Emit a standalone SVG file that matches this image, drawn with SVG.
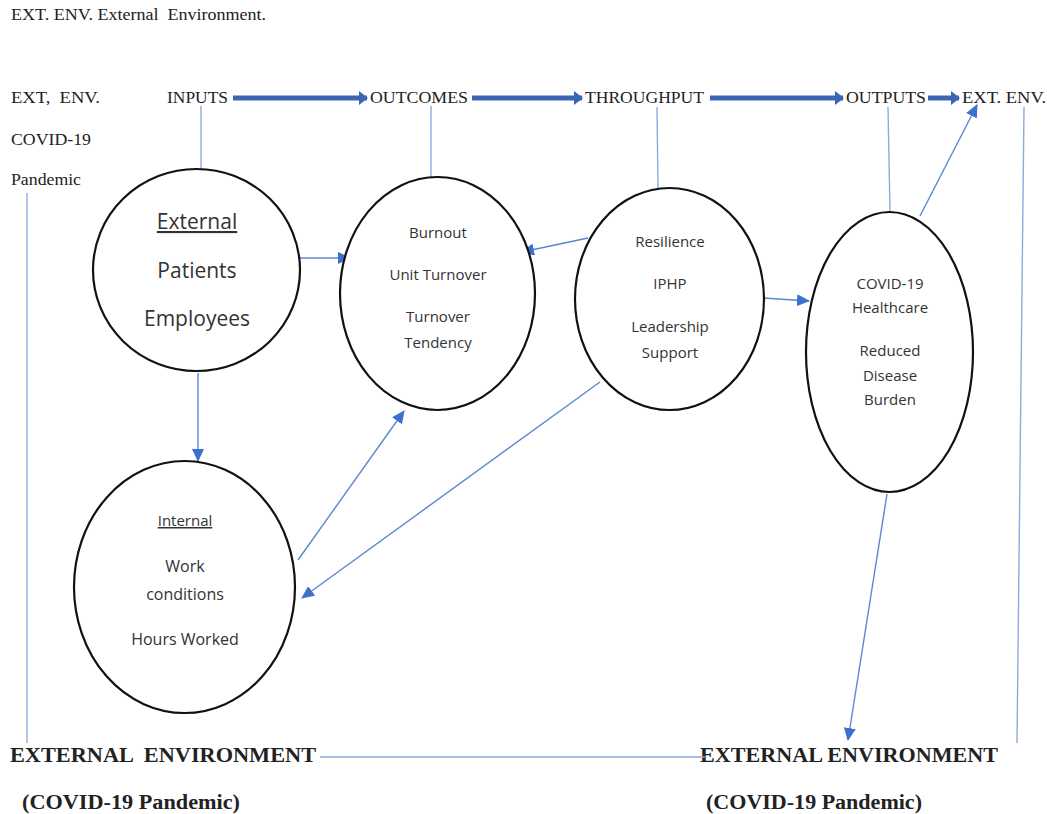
<svg xmlns="http://www.w3.org/2000/svg" width="1047" height="814" viewBox="0 0 1047 814">
<style>
text{white-space:pre}
.serif{font-family:"Liberation Serif","Times New Roman",serif;fill:#222;font-size:16px}
.bold{font-weight:bold;font-size:20px}
.sans{font-family:"Open Sans","Liberation Sans",sans-serif;fill:#333;text-anchor:middle}
.big{font-size:21px}
.med{font-size:15px}
.node{fill:#fff;stroke:#111;stroke-width:2.2}
.plain{stroke:#8EAADB;stroke-width:1.4;fill:none}
.arr{stroke:#5B86D4;stroke-width:1.4;fill:none;marker-end:url(#ah)}
.thick{stroke:#3B66B5;stroke-width:5;fill:none;marker-end:url(#th)}
</style>
<defs>
<marker id="ah" markerWidth="14" markerHeight="12" refX="12" refY="6" orient="auto" markerUnits="userSpaceOnUse">
<path d="M0,0 L13,6 L0,12 Z" fill="#3D6FCC"/>
</marker>
<marker id="th" markerWidth="10" markerHeight="14" refX="8" refY="7" orient="auto" markerUnits="userSpaceOnUse">
<path d="M0,0 L9,7 L0,14 Z" fill="#3B66B5"/>
</marker>
</defs>
<rect width="1047" height="814" fill="#fff"/>

<g id="labels" xml:space="preserve">
<text class="serif" x="11" y="20" textLength="255" lengthAdjust="spacingAndGlyphs">EXT. ENV. External  Environment.</text>
<text class="serif" x="11" y="103" textLength="89" lengthAdjust="spacingAndGlyphs">EXT,  ENV.</text>
<text class="serif" x="11" y="145" textLength="80" lengthAdjust="spacingAndGlyphs">COVID-19</text>
<text class="serif" x="11" y="185" textLength="70" lengthAdjust="spacingAndGlyphs">Pandemic</text>
<text class="serif" x="167" y="103" textLength="61" lengthAdjust="spacingAndGlyphs">INPUTS</text>
<text class="serif" x="370" y="103" textLength="98" lengthAdjust="spacingAndGlyphs">OUTCOMES</text>
<text class="serif" x="585" y="103" textLength="119" lengthAdjust="spacingAndGlyphs">THROUGHPUT</text>
<text class="serif" x="846" y="103" textLength="80" lengthAdjust="spacingAndGlyphs">OUTPUTS</text>
<text class="serif" x="962" y="103" textLength="84" lengthAdjust="spacingAndGlyphs">EXT. ENV.</text>
<text class="serif bold" x="10" y="762" textLength="306" lengthAdjust="spacingAndGlyphs">EXTERNAL  ENVIRONMENT</text>
<text class="serif bold" x="22" y="809" textLength="218" lengthAdjust="spacingAndGlyphs">(COVID-19 Pandemic)</text>
<text class="serif bold" x="700" y="762" textLength="298" lengthAdjust="spacingAndGlyphs">EXTERNAL ENVIRONMENT</text>
<text class="serif bold" x="706" y="809" textLength="216" lengthAdjust="spacingAndGlyphs">(COVID-19 Pandemic)</text>
</g>

<g id="connectors">
<line class="thick" x1="233" y1="98" x2="367" y2="98"/>
<line class="thick" x1="472" y1="98" x2="582" y2="98"/>
<line class="thick" x1="710" y1="98" x2="843" y2="98"/>
<line class="thick" x1="928" y1="98" x2="959" y2="98"/>
<line class="plain" x1="201" y1="106" x2="201" y2="168"/>
<line class="plain" x1="431" y1="106" x2="431" y2="177"/>
<line class="plain" x1="657" y1="107" x2="658" y2="188"/>
<line class="plain" x1="888" y1="107" x2="890" y2="212"/>
<line class="plain" x1="1024" y1="107" x2="1017" y2="743"/>
<line class="plain" x1="27" y1="193" x2="27" y2="743"/>
<line class="plain" x1="320" y1="757" x2="705" y2="757"/>
<line class="arr" x1="296" y1="258" x2="350" y2="258"/>
<line class="arr" x1="198" y1="373" x2="198" y2="461"/>
<line class="arr" x1="588" y1="238" x2="522" y2="252"/>
<line class="arr" x1="763" y1="298" x2="809" y2="301"/>
<line class="arr" x1="920" y1="216" x2="977" y2="105"/>
<line class="arr" x1="887" y1="494" x2="848" y2="740"/>
<line class="arr" x1="298" y1="560" x2="404" y2="411"/>
<line class="arr" x1="600" y1="382" x2="302" y2="598"/>
</g>

<g id="node-external">
<ellipse class="node" cx="196.5" cy="270" rx="103.5" ry="101"/>
<text class="sans big" x="197" y="229" text-decoration="underline">External</text>
<text class="sans big" x="197" y="278">Patients</text>
<text class="sans big" x="197" y="326">Employees</text>
</g>

<g id="node-outcomes">
<ellipse class="node" cx="437.5" cy="293.5" rx="97.5" ry="116.5"/>
<text class="sans med" x="438" y="238">Burnout</text>
<text class="sans med" x="438" y="280">Unit Turnover</text>
<text class="sans med" x="438" y="322">Turnover</text>
<text class="sans med" x="438" y="348">Tendency</text>
</g>

<g id="node-throughput">
<ellipse class="node" cx="669.5" cy="299" rx="94.5" ry="111"/>
<text class="sans med" x="670" y="247">Resilience</text>
<text class="sans med" x="670" y="289">IPHP</text>
<text class="sans med" x="670" y="332">Leadership</text>
<text class="sans med" x="670" y="358">Support</text>
</g>

<g id="node-outputs">
<ellipse class="node" cx="889.5" cy="352" rx="83.5" ry="140"/>
<text class="sans med" x="890" y="289">COVID-19</text>
<text class="sans med" x="890" y="313">Healthcare</text>
<text class="sans med" x="890" y="356">Reduced</text>
<text class="sans med" x="890" y="381">Disease</text>
<text class="sans med" x="890" y="405">Burden</text>
</g>

<g id="node-internal">
<ellipse class="node" cx="184.5" cy="587" rx="110.5" ry="126"/>
<text class="sans med" x="185" y="526" text-decoration="underline">Internal</text>
<text class="sans" font-size="16" x="185" y="572">Work</text>
<text class="sans" font-size="16" x="185" y="600">conditions</text>
<text class="sans" font-size="16" x="185" y="645">Hours Worked</text>
</g>
</svg>
